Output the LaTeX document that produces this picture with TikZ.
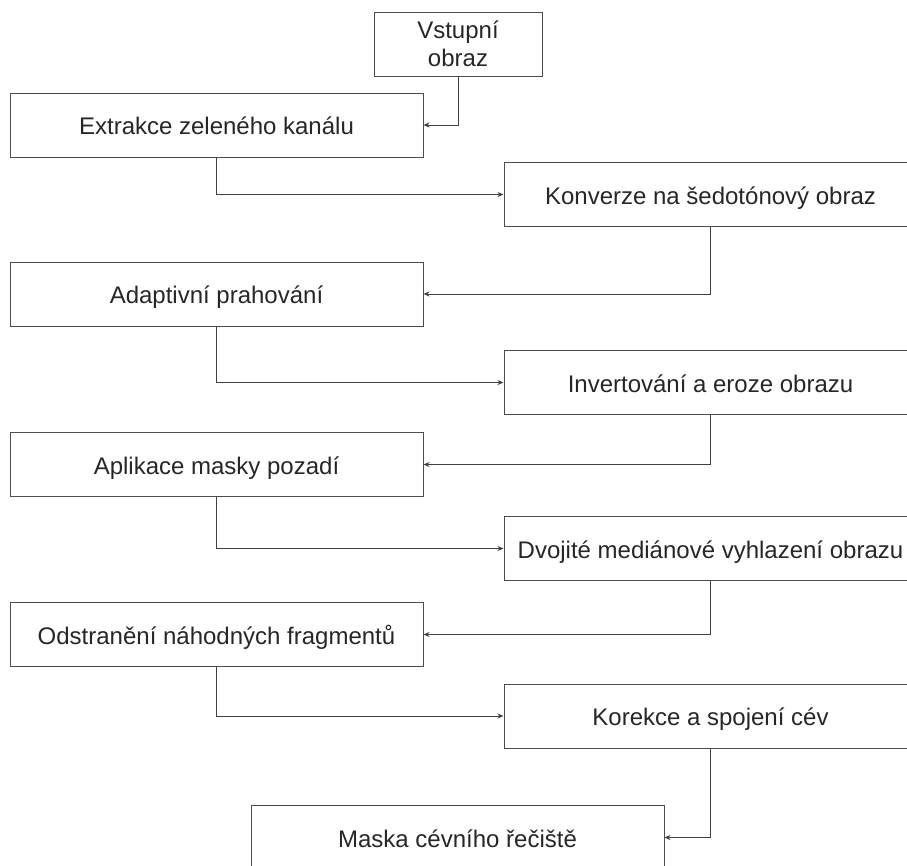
\documentclass[tikz,border=0pt]{standalone}
\usepackage{fontspec}
\setmainfont{Liberation Sans}
\usetikzlibrary{arrows.meta}
\begin{document}
\begin{tikzpicture}[x=1pt, y=-1pt, >={Stealth[length=6pt,width=5pt]},
  krok/.style={draw=black!70, line width=1pt, minimum width=413pt, minimum height=64pt,
    inner sep=0pt, align=center, text=black!85, font=\fontsize{24}{28}\selectfont},
  radek/.style={krok, text height=19pt, text depth=0pt},
  spoj/.style={->, draw=black!75, line width=1pt}]
  \clip (0,0) rectangle (907,865);

  % kroky zpracovani
  \node[krok, minimum width=168pt] (vstup) at (458,44) {Vstupní\\obraz};
  \node[radek] (zelena) at (216.5,125) {Extrakce zeleného kanálu};
  \node[radek] (sedo) at (710.5,194.5) {Konverze na šedotónový obraz};
  \node[radek] (prah) at (216.5,294) {Adaptivní prahování};
  \node[radek] (inverze) at (710.5,382.5) {Invertování a eroze obrazu};
  \node[radek] (pozadi) at (216.5,464.5) {Aplikace masky pozadí};
  \node[radek] (median) at (710.5,548.5) {Dvojité mediánové vyhlazení obrazu};
  \node[radek] (fragment) at (216.5,634.5) {Odstranění náhodných fragmentů};
  \node[radek] (cevy) at (710.5,716) {Korekce a spojení cév};
  \node[radek] (vysledek) at (457.5,837.5) {Maska cévního řečiště};

  % spojnice
  \draw[spoj] (vstup.south) |- (zelena.east);
  \draw[spoj] (zelena.south) |- (sedo.west);
  \draw[spoj] (sedo.south) |- (prah.east);
  \draw[spoj] (prah.south) |- (inverze.west);
  \draw[spoj] (inverze.south) |- (pozadi.east);
  \draw[spoj] (pozadi.south) |- (median.west);
  \draw[spoj] (median.south) |- (fragment.east);
  \draw[spoj] (fragment.south) |- (cevy.west);
  \draw[spoj] (cevy.south) |- (vysledek.east);
\end{tikzpicture}
\end{document}
